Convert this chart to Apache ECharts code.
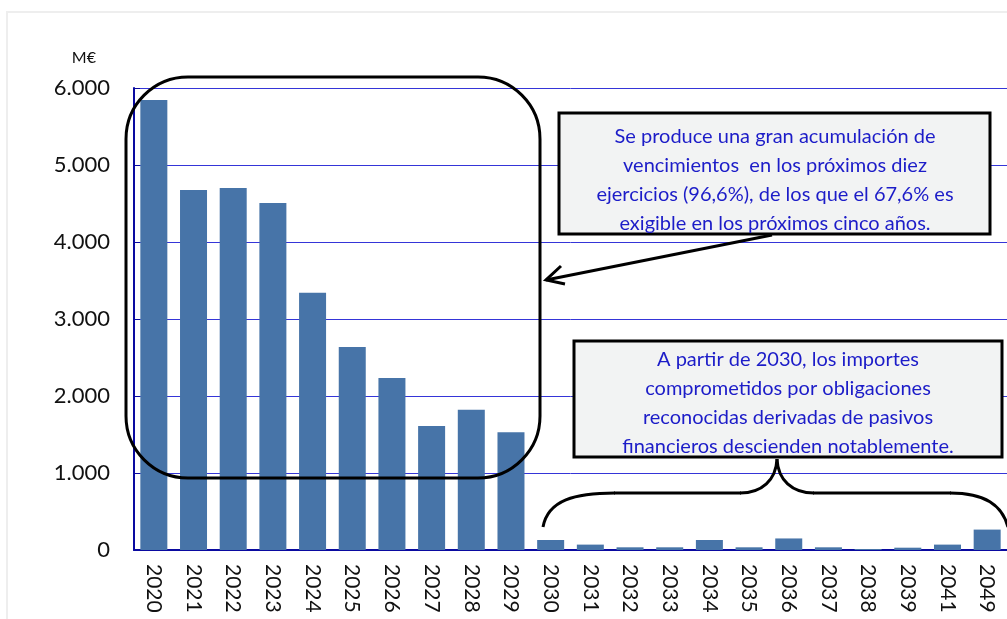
<!DOCTYPE html>
<html>
<head>
<meta charset="utf-8">
<script src="https://cdn.jsdelivr.net/npm/echarts@6/dist/echarts.min.js"></script>
<style>
  html, body { margin: 0; padding: 0; background: #fff; }
  #chart { width: 1007px; height: 619px; }
</style>
</head>
<body>
<div id="chart"></div>
<script>
const years = ["2020", "2021", "2022", "2023", "2024", "2025", "2026", "2027", "2028", "2029",
  "2030", "2031", "2032", "2033", "2034", "2035", "2036", "2037", "2038", "2039", "2041", "2049"];
const amounts = [5845, 4675, 4700, 4505, 3340, 2635, 2235, 1610, 1820, 1530,
  130, 70, 35, 35, 130, 35, 150, 35, 13, 30, 70, 265];
const yTicks = [0, 1000, 2000, 3000, 4000, 5000, 6000];

const noteTop = [
  "Se produce una gran acumulación de",
  "vencimientos  en los próximos diez",
  "ejercicios (96,6%), de los que el 67,6% es",
  "exigible en los próximos cinco años.",
];
const noteBottom = [
  "A partir de 2030, los importes",
  "comprometidos por obligaciones",
  "reconocidas derivadas de pasivos",
  "financieros descienden notablemente.",
];

const chart = echarts.init(document.getElementById("chart"));

const fmt = (v) => v === 0 ? "0" : v.toLocaleString("de-DE");

const noteText = (lines) => ({
  text: lines.join("\n"),
  fill: "#1c1cc8",
  font: "20px Lato",
  align: "center",
  verticalAlign: "middle",
  lineHeight: 29,
});

const stroke = { stroke: "#000", lineWidth: 3, fill: null };
const boxStyle = { fill: "#f2f3f3", stroke: "#000", lineWidth: 3 };

chart.setOption({
  backgroundColor: "#fff",
  animation: false,
  grid: { left: 134, right: -9, top: 88, bottom: 69, containLabel: false },
  xAxis: {
    type: "category",
    data: years,
    axisLine: { lineStyle: { color: "#0a0aa0", width: 2 } },
    axisTick: { show: false },
    axisLabel: {
      rotate: -90,
      interval: 0,
      color: "#111",
      fontFamily: "Lato",
      fontSize: 21,
      margin: 14,
    },
  },
  yAxis: {
    type: "value",
    min: yTicks[0],
    max: yTicks[yTicks.length - 1],
    interval: 1000,
    name: "M€",
    nameLocation: "end",
    nameGap: 22,
    nameTextStyle: { color: "#111", fontFamily: "Lato", fontSize: 16, align: "right", padding: [0, 38, 0, 0] },
    axisLine: { show: true, lineStyle: { color: "#0a0aa0", width: 2 } },
    axisTick: { show: true, inside: true, length: 6, lineStyle: { color: "#0a0aa0" } },
    axisLabel: {
      color: "#111",
      fontFamily: "Lato",
      fontSize: 22,
      margin: 24,
      formatter: fmt,
    },
    splitLine: { lineStyle: { color: "#3535d8", width: 1 } },
  },
  series: [
    {
      type: "bar",
      data: amounts,
      barWidth: 27,
      itemStyle: { color: "#4774a8" },
    },
  ],
  graphic: [
    {
      type: "rect",
      shape: { x: 7, y: 12, width: 1010, height: 620 },
      style: { fill: null, stroke: "#eeeeee", lineWidth: 2 },
      silent: true,
      z: -10,
    },
    {
      type: "rect",
      shape: { x: 126, y: 77, width: 414, height: 401, r: 62 },
      style: stroke,
      z: 100,
    },
    // top note with arrow
    { type: "rect", z: 100, shape: { x: 559, y: 113, width: 431, height: 121 }, style: boxStyle },
    { type: "text", z: 101, x: 775, y: 180, style: noteText(noteTop) },
    { type: "line", z: 100, shape: { x1: 772, y1: 235, x2: 546, y2: 280 }, style: stroke },
    { type: "polyline", z: 100, shape: { points: [[561, 266], [546, 280], [565, 284]] }, style: stroke },
    // bottom note with curly brace
    { type: "rect", z: 100, shape: { x: 574, y: 341, width: 428, height: 116 }, style: boxStyle },
    { type: "text", z: 101, x: 788, y: 403, style: noteText(noteBottom) },
    {
      type: "bezierCurve", z: 100,
      shape: { x1: 543, y1: 527, cpx1: 548, cpy1: 500, cpx2: 575, cpy2: 493, x2: 615, y2: 493 },
      style: stroke,
    },
    { type: "line", z: 100, shape: { x1: 614, y1: 493, x2: 741, y2: 493 }, style: stroke },
    {
      type: "bezierCurve", z: 100,
      shape: { x1: 740, y1: 493, cpx1: 762, cpy1: 493, cpx2: 776, cpy2: 480, x2: 777, y2: 459 },
      style: stroke,
    },
    {
      type: "bezierCurve", z: 100,
      shape: { x1: 777, y1: 459, cpx1: 778, cpy1: 480, cpx2: 792, cpy2: 493, x2: 814, y2: 493 },
      style: stroke,
    },
    { type: "line", z: 100, shape: { x1: 813, y1: 493, x2: 951, y2: 493 }, style: stroke },
    {
      type: "bezierCurve", z: 100,
      shape: { x1: 950, y1: 493, cpx1: 985, cpy1: 493, cpx2: 1002, cpy2: 505, x2: 1008, y2: 527 },
      style: stroke,
    },
  ],
});
</script>
</body>
</html>
